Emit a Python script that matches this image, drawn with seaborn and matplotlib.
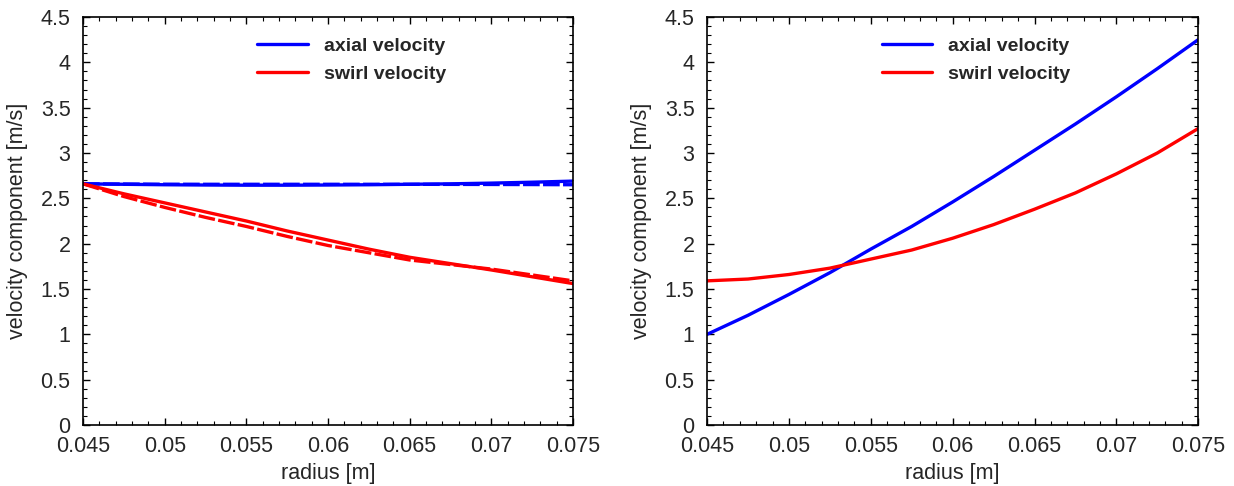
import numpy as np
import pandas as pd
import matplotlib
matplotlib.use("Agg")
import matplotlib.pyplot as plt
from matplotlib.ticker import MultipleLocator
import seaborn as sns

radius = [0.045, 0.0475, 0.05, 0.0525, 0.055, 0.0575, 0.06, 0.0625, 0.065, 0.0675, 0.07, 0.0725, 0.075]

# left panel
left_axial = [2.66, 2.655, 2.65, 2.647, 2.645, 2.645, 2.647, 2.65, 2.655, 2.66, 2.668, 2.678, 2.69]
left_axial_dashed = [2.66, 2.658, 2.656, 2.655, 2.655, 2.655, 2.655, 2.655, 2.655, 2.654, 2.653, 2.652, 2.65]
left_swirl = [2.66, 2.55, 2.45, 2.35, 2.25, 2.14, 2.04, 1.94, 1.85, 1.78, 1.71, 1.635, 1.56]
left_swirl_dashed = [2.66, 2.52, 2.40, 2.29, 2.19, 2.08, 1.98, 1.90, 1.82, 1.77, 1.72, 1.655, 1.59]

# right panel
right_axial = [1.00, 1.21, 1.44, 1.68, 1.94, 2.19, 2.46, 2.74, 3.03, 3.32, 3.62, 3.93, 4.25]
right_swirl = [1.59, 1.61, 1.66, 1.73, 1.83, 1.93, 2.06, 2.21, 2.38, 2.56, 2.77, 3.00, 3.27]

x_ticks = [0.045, 0.05, 0.055, 0.06, 0.065, 0.07, 0.075]
x_ticklabels = ["0.045", "0.05", "0.055", "0.06", "0.065", "0.07", "0.075"]
y_ticks = [0, 0.5, 1, 1.5, 2, 2.5, 3, 3.5, 4, 4.5]
y_ticklabels = ["0", "0.5", "1", "1.5", "2", "2.5", "3", "3.5", "4", "4.5"]

sns.set_style("ticks")
plt.rcParams["font.family"] = ["Liberation Sans", "DejaVu Sans"]

fig = plt.figure(figsize=(12.34, 4.86), dpi=100)
ax1 = fig.add_axes([0.0673, 0.1255, 0.397, 0.8395])
ax2 = fig.add_axes([0.573, 0.1255, 0.398, 0.8395])

BLUE = "#0000ff"
RED = "#ff0000"
LW = 2.4
DASH = (5.0, 1.0)

sns.lineplot(x=radius, y=left_axial_dashed, ax=ax1, color=BLUE, lw=LW, legend=False)
ax1.lines[-1].set_dashes(DASH)
sns.lineplot(x=radius, y=left_swirl_dashed, ax=ax1, color=RED, lw=LW, legend=False)
ax1.lines[-1].set_dashes(DASH)
sns.lineplot(x=radius, y=left_axial, ax=ax1, color=BLUE, lw=LW, label="axial velocity")
sns.lineplot(x=radius, y=left_swirl, ax=ax1, color=RED, lw=LW, label="swirl velocity")

sns.lineplot(x=radius, y=right_axial, ax=ax2, color=BLUE, lw=LW, label="axial velocity")
sns.lineplot(x=radius, y=right_swirl, ax=ax2, color=RED, lw=LW, label="swirl velocity")

for ax in (ax1, ax2):
    for ln in ax.lines:
        ln.set_solid_joinstyle("round")
    ax.set_xlim(0.045, 0.075)
    ax.set_ylim(0, 4.5)
    ax.set_xticks(x_ticks)
    ax.set_xticklabels(x_ticklabels)
    ax.set_yticks(y_ticks)
    ax.set_yticklabels(y_ticklabels)
    ax.xaxis.set_minor_locator(MultipleLocator(0.001))
    ax.yaxis.set_minor_locator(MultipleLocator(0.1))
    ax.tick_params(which="both", direction="in", top=True, right=True, labelsize=15.5, color="black")
    ax.tick_params(axis="y", which="major", pad=9)
    ax.tick_params(axis="x", which="major", pad=8)
    ax.tick_params(which="major", length=5, width=1.0)
    ax.tick_params(which="minor", length=3, width=0.8)
    for s in ax.spines.values():
        s.set_visible(True)
        s.set_linewidth(1.2)
        s.set_color("black")
    ax.set_xlabel("radius [m]", fontsize=15.5, labelpad=4)
    ax.set_ylabel("velocity component [m/s]", fontsize=15.5, labelpad=9)
    handles, labels = ax.get_legend_handles_labels()
    ax.legend(handles, labels, loc="upper left", bbox_to_anchor=(0.34, 0.97), frameon=False,
              prop={"weight": "bold", "size": 14}, handlelength=2.6, handletextpad=0.8,
              labelspacing=0.55, borderaxespad=0)
    ax.set_facecolor("white")

fig.savefig("out.png", dpi=100, facecolor="white")
